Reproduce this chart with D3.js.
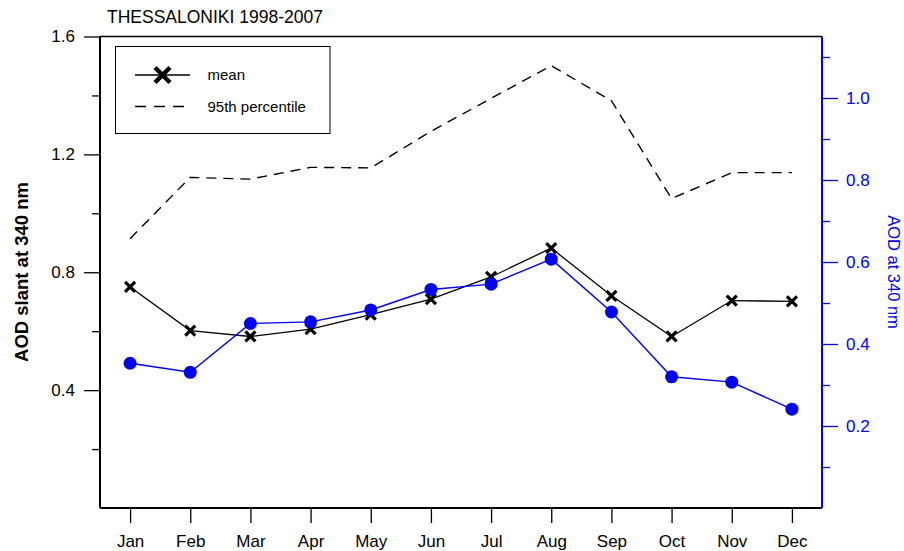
<!DOCTYPE html>
<html>
<head>
<meta charset="utf-8">
<script src="https://cdn.jsdelivr.net/npm/d3@7"></script>
<style>
body { margin: 0; background: #fff; }
text { font-family: "Liberation Sans", Arial, sans-serif; }
</style>
</head>
<body>
<div id="chart"></div>
<script>
// monthly values, Thessaloniki 1998-2007
var months = ["Jan", "Feb", "Mar", "Apr", "May", "Jun", "Jul", "Aug", "Sep", "Oct", "Nov", "Dec"];
var meanSlant = [0.750, 0.602, 0.582, 0.607, 0.656, 0.709, 0.784, 0.882, 0.720, 0.582, 0.704, 0.701];
var p95Slant = [0.914, 1.122, 1.116, 1.156, 1.154, 1.278, 1.390, 1.501, 1.382, 1.050, 1.138, 1.138];
var aod340 = [0.353, 0.331, 0.450, 0.454, 0.483, 0.533, 0.546, 0.607, 0.478, 0.320, 0.307, 0.241];

var leftMajor = [0.4, 0.8, 1.2, 1.6];
var leftMinor = [0.2, 0.6, 1.0, 1.4];
var rightMajor = [0.2, 0.4, 0.6, 0.8, 1.0];
var rightMinor = [0.1, 0.3, 0.5, 0.7, 0.9, 1.1];

var w = 904,
    h = 551;
var padL = 100, padR = 822, padT = 36.5, padB = 508;

var svg = d3.select("#chart")
	.append("svg")
	.attr("width", w)
	.attr("height", h);

var x = d3.scalePoint().domain(months).range([padL, padR]).padding(0.5);
var yL = d3.scaleLinear().domain([0, 1.6]).range([padB, padT]);
var yR = d3.scaleLinear().domain([0, 1.15]).range([padB, padT]);

// axes
function styleAxis(g, col, size) {
	g.select(".domain").remove();
	g.selectAll("line").attr("stroke", col).attr("stroke-width", 1.3);
	g.selectAll("text")
		.attr("fill", col)
		.style("font-size", size + "px")
		.style("font-family", "'Liberation Sans', Arial, sans-serif");
}

svg.append("g")
	.attr("transform", "translate(" + padL + ",0)")
	.call(d3.axisLeft(yL).tickValues(leftMajor).tickSize(16).tickPadding(9).tickFormat(d3.format(".1f")))
	.call(styleAxis, "#000", 17);
svg.append("g")
	.attr("transform", "translate(" + padL + ",0)")
	.call(d3.axisLeft(yL).tickValues(leftMinor).tickSize(8).tickFormat(""))
	.call(styleAxis, "#000", 17);

svg.append("g")
	.attr("transform", "translate(" + padR + ",0)")
	.call(d3.axisRight(yR).tickValues(rightMajor).tickSize(16).tickPadding(8).tickFormat(d3.format(".1f")))
	.call(styleAxis, "#0000ff", 17);
svg.append("g")
	.attr("transform", "translate(" + padR + ",0)")
	.call(d3.axisRight(yR).tickValues(rightMinor).tickSize(8).tickFormat(""))
	.call(styleAxis, "#0000ff", 17);

svg.append("g")
	.attr("transform", "translate(0," + padB + ")")
	.call(d3.axisBottom(x).tickSize(15).tickPadding(12))
	.call(styleAxis, "#000", 17);

// frame
svg.append("line").attr("x1", padL).attr("x2", padR).attr("y1", padT).attr("y2", padT)
	.attr("stroke", "#000").attr("stroke-width", 1.5);
svg.append("line").attr("x1", padL).attr("x2", padR).attr("y1", padB).attr("y2", padB)
	.attr("stroke", "#000").attr("stroke-width", 2);
svg.append("line").attr("x1", padL).attr("x2", padL).attr("y1", padT).attr("y2", padB)
	.attr("stroke", "#000").attr("stroke-width", 2);
svg.append("line").attr("x1", padR).attr("x2", padR).attr("y1", padT).attr("y2", padB)
	.attr("stroke", "#0000ff").attr("stroke-width", 2);

// titles
svg.append("text")
	.attr("x", 107).attr("y", 23)
	.style("font-size", "17.5px")
	.text("THESSALONIKI 1998-2007");

svg.append("text")
	.attr("transform", "translate(28,272) rotate(-90)")
	.attr("text-anchor", "middle")
	.style("font-size", "18.5px")
	.style("font-weight", "bold")
	.text("AOD slant at 340 nm");

svg.append("text")
	.attr("transform", "translate(888,272) rotate(90)")
	.attr("text-anchor", "middle")
	.attr("fill", "#0000ff")
	.style("font-size", "16.5px")
	.text("AOD at 340 nm");

// series
var idx = d3.range(months.length);

svg.append("path")
	.datum(idx)
	.attr("fill", "none")
	.attr("stroke", "#000")
	.attr("stroke-width", 1.4)
	.attr("stroke-dasharray", "10,7")
	.attr("d", d3.line().x(function(i) { return x(months[i]); }).y(function(i) { return yL(p95Slant[i]); }));

svg.append("path")
	.datum(idx)
	.attr("fill", "none")
	.attr("stroke", "#000")
	.attr("stroke-width", 1.3)
	.attr("d", d3.line().x(function(i) { return x(months[i]); }).y(function(i) { return yL(meanSlant[i]); }));

svg.append("path")
	.datum(idx)
	.attr("fill", "none")
	.attr("stroke", "#0000ff")
	.attr("stroke-width", 1.4)
	.attr("d", d3.line().x(function(i) { return x(months[i]); }).y(function(i) { return yR(aod340[i]); }));

function cross(s) {
	return "M" + (-s) + "," + (-s) + "L" + s + "," + s + "M" + (-s) + "," + s + "L" + s + "," + (-s);
}

svg.selectAll(".mx")
	.data(idx)
	.enter().append("path")
	.attr("class", "mx")
	.attr("transform", function(i) { return "translate(" + x(months[i]) + "," + yL(meanSlant[i]) + ")"; })
	.attr("d", cross(5))
	.attr("stroke", "#000")
	.attr("stroke-width", 3.2)
	.attr("fill", "none");

svg.selectAll(".bc")
	.data(idx)
	.enter().append("circle")
	.attr("class", "bc")
	.attr("cx", function(i) { return x(months[i]); })
	.attr("cy", function(i) { return yR(aod340[i]); })
	.attr("r", 6.5)
	.attr("fill", "#0000ff");

// legend
var lg = svg.append("g");
lg.append("rect")
	.attr("x", 115.5).attr("y", 46.5).attr("width", 214.5).attr("height", 87)
	.attr("fill", "#fff").attr("stroke", "#000").attr("stroke-width", 1);
lg.append("line").attr("x1", 135).attr("x2", 190).attr("y1", 75).attr("y2", 75)
	.attr("stroke", "#000").attr("stroke-width", 1.5);
lg.append("path").attr("transform", "translate(162.5,75)").attr("d", cross(7.5))
	.attr("stroke", "#000").attr("stroke-width", 4.5);
lg.append("text").attr("x", 207.5).attr("y", 80).style("font-size", "15px").text("mean");
lg.append("line").attr("x1", 135).attr("x2", 185).attr("y1", 106.5).attr("y2", 106.5)
	.attr("stroke", "#000").attr("stroke-width", 1.4).attr("stroke-dasharray", "11,8");
lg.append("text").attr("x", 207.5).attr("y", 111.5).style("font-size", "15px").text("95th percentile");
</script>
</body>
</html>
